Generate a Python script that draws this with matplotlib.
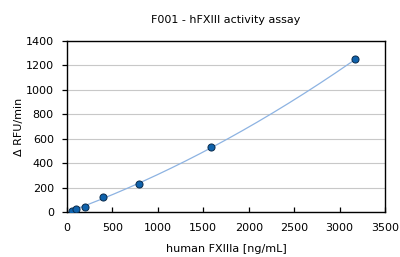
import matplotlib
matplotlib.use('Agg')
import matplotlib.pyplot as plt
import numpy as np

conc = [49.6, 99.2, 198.4, 396.9, 793.75, 1587.5, 3175]
rfu = [12, 25, 45, 120, 228, 530, 1250]

plt.rcParams['font.family'] = ['DejaVu Sans']

fig = plt.figure(figsize=(4.0, 2.57), dpi=100)
ax = fig.add_axes([67 / 400, 1 - 212 / 257, 318 / 400, 171 / 257])

# quadratic trendline through the standards
coef = np.polyfit(conc, rfu, 2)
xs = np.linspace(min(conc), max(conc), 200)
ax.plot(xs, np.polyval(coef, xs), color='#8db3e2', lw=0.9, zorder=2)
ax.scatter(conc, rfu, s=26, color='#0f62ac', edgecolors='#0a2a4a',
           linewidths=0.7, zorder=3)

ax.set_xlim(0, 3500)
ax.set_ylim(0, 1400)
ax.set_xticks(np.arange(0, 3501, 500))
ax.set_yticks(np.arange(0, 1401, 200))
ax.yaxis.grid(True, color='#c8c8c8', lw=0.8)
ax.set_axisbelow(True)
for s in ax.spines.values():
    s.set_linewidth(1.0)
    s.set_color('black')
ax.tick_params(axis='y', direction='out', length=3.5, width=0.9,
               labelsize=8, pad=6)
ax.tick_params(axis='x', direction='in', length=3.5, width=0.9,
               labelsize=8, pad=8)

ax.set_title('F001 - hFXIII activity assay', fontsize=8, pad=13)
ax.set_xlabel('human FXIIIa [ng/mL]', fontsize=8, labelpad=8)
ax.set_ylabel('Δ RFU/min', fontsize=8, labelpad=1)

fig.savefig('out.png', dpi=100)
